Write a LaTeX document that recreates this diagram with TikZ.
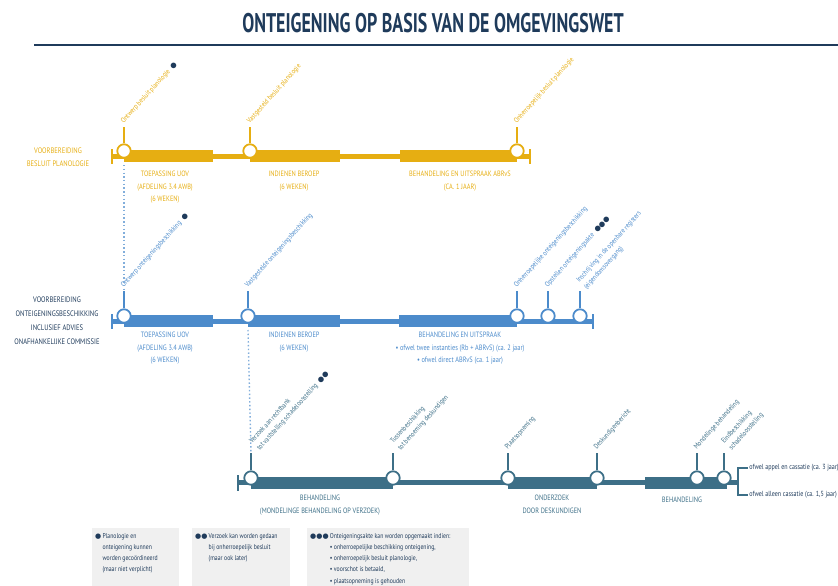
\documentclass[tikz,border=0pt]{standalone}
\usepackage{fontspec}
\setmainfont{PT Sans}[FakeStretch=0.82]
\newfontfamily\titlefont{PT Sans}[FakeStretch=0.665]
\newfontfamily\symfont{DejaVu Sans}

\definecolor{yel}{HTML}{E6AE12}
\definecolor{blu}{HTML}{4C8BCB}
\definecolor{tea}{HTML}{3D6F87}
\definecolor{navy}{HTML}{1F3B5B}
\definecolor{boxg}{HTML}{F0F0F0}

% footnote marker
\newcommand{\mdot}{{\symfont\color{navy}●}}

\begin{document}
\begin{tikzpicture}[x=0.03cm,y=-0.03cm,
    sty1/.style={font=\fontsize{6.2}{8.6}\selectfont, rotate=48, anchor=south west, inner sep=0pt, align=left},
    sty2/.style={font=\fontsize{6.6}{10.5}\selectfont, align=center, anchor=north, inner sep=0pt},
    sty3/.style={circle, draw, fill=white, line width=1.5pt, minimum size=11.5pt, inner sep=0pt},
    sty4/.style={line width=1.6pt},
    sty5/.style={font=\fontsize{6}{9.4}\selectfont, text=navy, anchor=north west, inner sep=0pt}]

\useasboundingbox (0,0) rectangle (838,585);

% Title and rule
\node[font=\titlefont\bfseries\fontsize{23}{25}\selectfont, text=navy] (title) at (433,23) {ONTEIGENING OP BASIS VAN DE OMGEVINGSWET};
\draw[navy, line width=1.7pt] (34,45) -- (838,45);

%%%%%%%%%%% Top line: besluit planologie %%%%%%%%%%%%%%%%%%%%%

\fill[yel] (112,153.5) rectangle (530,158.5);
\foreach \a/\b in {124/213,250/340,400/517}
  \fill[yel] (\a,150) rectangle (\b,162);
\draw[yel,sty4] (112,149) -- (112,164);
\draw[yel,sty4] (530,149) -- (530,164);
% Milestones
\foreach \x/\n in {124/y1,250/y2,517/y3} {
  \node[sty3,draw=yel] (\n) at (\x,151) {};
  \draw[yel,sty4] (\n.north) -- ++(0,-16) coordinate (\n-t);
}

\node[sty1,text=yel] (ly1) at (125,125) {Ontwerp besluit planologie\enspace\mdot};
\node[sty1,text=yel] (ly2) at (251,125) {Vastgesteld besluit planologie};
\node[sty1,text=yel] (ly3) at (518,125) {Onherroepelijk besluit planologie};

% Phases
\node[sty2,text=yel] (uy1) at (165,171) {TOEPASSING UOV\\(AFDELING 3.4 AWB)\\(6 WEKEN)};
\node[sty2,text=yel] (uy2) at (294,171) {INDIENEN BEROEP\\(6 WEKEN)};
\node[sty2,text=yel] (uy3) at (460,171) {BEHANDELING EN UITSPRAAK ABRvS\\(CA. 1 JAAR)};

\node[sty2,text=yel,anchor=center,font=\fontsize{6.8}{11.5}\selectfont] (py) at (58,157) {VOORBEREIDING\\BESLUIT PLANOLOGIE};

%%%%%%%%%%% Middle line: onteigeningsbeschikking %%%%%%%%%%%%%

\fill[blu] (112,318.5) rectangle (593,323.5);
\foreach \a/\b in {124/213,248/340,399/517}
  \fill[blu] (\a,315) rectangle (\b,327);
\draw[blu,sty4] (112,314) -- (112,329);
\draw[blu,sty4] (593,314) -- (593,329);
% Milestones
\foreach \x/\n in {124/b1,248/b2,517/b3,548/b4,580/b5} {
  \node[sty3,draw=blu] (\n) at (\x,316) {};
  \draw[blu,sty4] (\n.north) -- ++(0,-17) coordinate (\n-t);
}

\node[sty1,text=blu] (lb1) at (125,289) {Ontwerp onteigeningsbeschikking\enspace\mdot};
\node[sty1,text=blu] (lb2) at (249,289) {Vastgestelde onteigeningsbeschikking};
\node[sty1,text=blu] (lb3) at (518,289) {Onherroepelijke onteigeningsbeschikking};
\node[sty1,text=blu] (lb4) at (549,289) {Opstellen onteigeningsakte\enspace\mdot\mdot\mdot};
\node[sty1,text=blu] (lb5) at (588,291) {Inschrijving in de openbare registers\\(eigendomsovergang)};

% Phases
\node[sty2,text=blu] (ub1) at (165,332) {TOEPASSING UOV\\(AFDELING 3.4 AWB)\\(6 WEKEN)};
\node[sty2,text=blu] (ub2) at (294,332) {INDIENEN BEROEP\\(6 WEKEN)};
\node[sty2,text=blu] (ub3) at (460,332) {BEHANDELING EN UITSPRAAK\\\textbullet\ ofwel twee instanties (Rb + ABRvS) (ca. 2 jaar)\\\textbullet\ ofwel direct ABRvS (ca. 1 jaar)};

\node[sty2,text=navy,anchor=center,font=\fontsize{6.8}{12}\selectfont] (pb) at (57,321) {VOORBEREIDING\\ONTEIGENINGSBESCHIKKING\\INCLUSIEF ADVIES\\ONAFHANKELIJKE COMMISSIE};

%%%%%%%%%%% Bottom line: schadeloosstelling %%%%%%%%%%%%%%%%%%

\fill[tea] (238,480) rectangle (738,485);
\foreach \a/\b in {251/393,508/597,645/727}
  \fill[tea] (\a,477) rectangle (\b,489);
\draw[tea,sty4] (238,475) -- (238,491);
% Milestones
\foreach \x/\n in {251/t1,393/t2,508/t3,597/t4,697/t5,724/t6} {
  \node[sty3,draw=tea] (\n) at (\x,478) {};
  \draw[tea,sty4] (\n.north) -- ++(0,-17) coordinate (\n-t);
}

\node[sty1,text=tea] (lt1) at (261,452) {Verzoek aan rechtbank\\tot vaststelling schadeloosstelling\enspace\mdot\mdot};
\node[sty1,text=tea] (lt2) at (402,452) {Tussenbeschikking\\tot benoeming deskundigen};
\node[sty1,text=tea] (lt3) at (509,451) {Plaatsopneming};
\node[sty1,text=tea] (lt4) at (598,451) {Deskundigenbericht};
\node[sty1,text=tea] (lt5) at (698,451) {Mondelinge behandeling};
\node[sty1,text=tea] (lt6) at (733,452) {Eindbeschikking\\schadeloosstelling};

% Phases
\node[sty2,text=tea] (ut1) at (320,495) {BEHANDELING\\(MONDELINGE BEHANDELING OP VERZOEK)};
\node[sty2,text=tea] (ut2) at (552,495) {ONDERZOEK\\DOOR DESKUNDIGEN};
\node[sty2,text=tea] (ut3) at (682,497) {BEHANDELING};

% Appeal branches
\coordinate (br) at (738,482);
\node[font=\fontsize{6.3}{7}\selectfont, text=navy, anchor=west, inner sep=1pt] (r1) at (748,468) {ofwel appel en cassatie (ca. 3 jaar)};
\node[font=\fontsize{6.3}{7}\selectfont, text=navy, anchor=west, inner sep=1pt] (r2) at (748,495) {ofwel alleen cassatie (ca. 1,5 jaar)};
\draw[tea,sty4] (br) |- (r1.west);
\draw[tea,sty4] (br) |- (r2.west);

% Coordination between the lines
\draw[dotted, blu!70, line width=1.2pt] (y1 |- 0,165) -- (b1-t);
\draw[dotted, blu!70, line width=1.2pt] (b2 |- 0,330) -- (t1-t);

%%%%%%%%%%% Notes %%%%%%%%%%%%%%%%%%%%%%%%%%%%%%%%%%%%%%%%%%%%

\fill[boxg] (92,528) rectangle (179,586);
\fill[boxg] (192,528) rectangle (290,586);
\fill[boxg] (307,528) rectangle (469,586);

\node[sty5] (n1) at (95,531) {\begin{tabular}{@{}l@{\,}l@{}}\mdot & Planologie en\\ & onteigening kunnen\\ & worden gecoördineerd\\ & (maar niet verplicht)\end{tabular}};
\node[sty5] (n2) at (195,531) {\begin{tabular}{@{}l@{\,}l@{}}\mdot\mdot & Verzoek kan worden gedaan\\ & bij onherroepelijk besluit\\ & (maar ook later)\end{tabular}};
\node[sty5] (n3) at (310,531) {\begin{tabular}{@{}l@{\,}l@{}}\mdot\mdot\mdot & Onteigeningsakte kan worden opgemaakt indien:\\ & \textbullet\ onherroepelijke beschikking onteigening,\\ & \textbullet\ onherroepelijk besluit planologie,\\ & \textbullet\ voorschot is betaald,\\ & \textbullet\ plaatsopneming is gehouden\end{tabular}};

\end{tikzpicture}
\end{document}
